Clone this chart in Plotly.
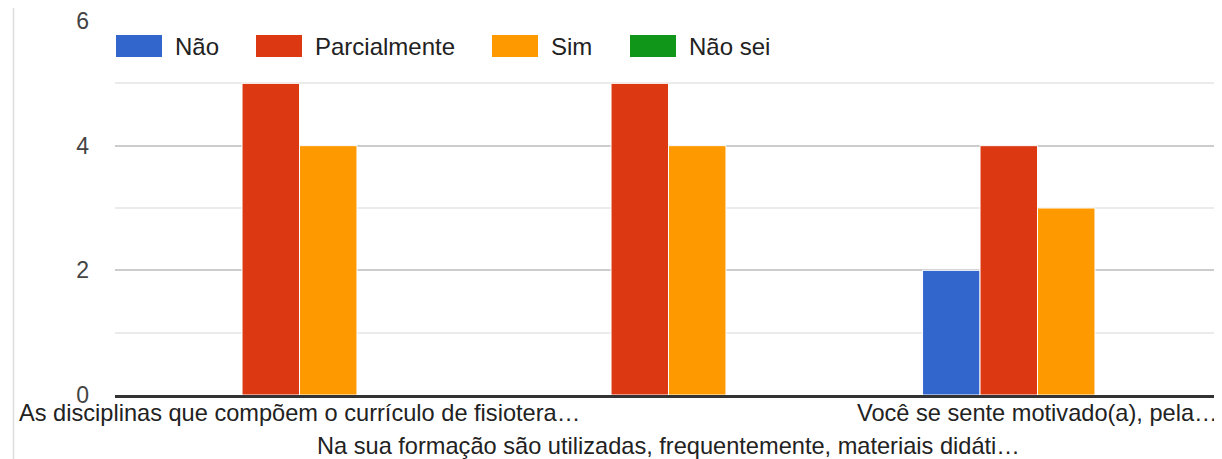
import plotly.graph_objects as go

# questions (truncated as in the original chart)
categories = [
    "As disciplinas que compõem o currículo de fisiotera…",
    "Na sua formação são utilizadas, frequentemente, materiais didáti…",
    "Você se sente motivado(a), pela…",
]
series_names = ["Não", "Parcialmente", "Sim", "Não sei"]
nao = [0, 0, 2]
parcialmente = [5, 5, 4]
sim = [4, 4, 3]
nao_sei = [0, 0, 0]
y_ticks = [0, 2, 4, 6]

colors = ["#3366cc", "#dc3912", "#ff9900", "#109618"]
values = [nao, parcialmente, sim, nao_sei]

# the page body has an 8px margin, so the figure is sized to fit the window
OFF = 8
W, H = 1222 - OFF, 459 - OFF
L, R, T, B = 115 - OFF, 0, 21 - OFF, 64
pw, ph = W - L - R, H - T - B


def px(x):
    # x in window pixels -> paper fraction
    return (x - OFF - L) / pw


def py(y):
    return (H - B - (y - OFF)) / ph


fig = go.Figure()
for name, vals, col in zip(series_names, values, colors):
    fig.add_trace(go.Bar(x=categories, y=vals, name=name,
                         marker=dict(color=col, line=dict(color="white", width=1)),
                         showlegend=False))

shapes = []
annotations = []

# category labels, every other one on a second row
for i, c in enumerate(categories):
    annotations.append(dict(text=c, xref="x", yref="paper", x=c,
                            y=py(413 if i % 2 == 0 else 446),
                            xanchor="center", yanchor="middle", showarrow=False,
                            font=dict(size=23.6, color="#222")))

# legend drawn by hand so the swatches are wide rectangles
legend_x = [116, 256, 492, 630]
for name, col, lx in zip(series_names, colors, legend_x):
    shapes.append(dict(type="rect", xref="paper", yref="paper",
                       x0=px(lx), x1=px(lx + 46), y0=py(57), y1=py(35),
                       fillcolor=col, line=dict(width=0)))
    annotations.append(dict(text=name, xref="paper", yref="paper",
                            x=px(lx + 57), y=py(46), xanchor="left", yanchor="middle",
                            showarrow=False, font=dict(size=24, color="#222")))

# faint frame line at the left
shapes.append(dict(type="line", xref="paper", yref="paper",
                   x0=px(13.5), x1=px(13.5), y0=py(OFF), y1=py(459),
                   line=dict(color="#dddddd", width=1.5)))

fig.update_layout(
    width=W, height=H,
    margin=dict(l=L, r=R, t=T, b=B, pad=0),
    paper_bgcolor="white", plot_bgcolor="white",
    font=dict(family="Liberation Sans, Arial, sans-serif", color="#222"),
    barmode="group", bargap=0.377, bargroupgap=0,
    shapes=shapes, annotations=annotations,
)
fig.update_xaxes(showticklabels=False, automargin=False,
                 showline=True, linecolor="#333", linewidth=2.5,
                 showgrid=False, ticks="", range=[-0.5, 2.5])
fig.update_yaxes(range=[0, 6], tickvals=y_ticks, tickfont=dict(size=23, color="#444"),
                 automargin=False,
                 showgrid=True, gridcolor="#cccccc", gridwidth=2,
                 minor=dict(dtick=1, showgrid=True, gridcolor="#ebebeb", gridwidth=2),
                 zeroline=False, ticks="", ticklabelstandoff=25)

fig.write_html("out.html")
